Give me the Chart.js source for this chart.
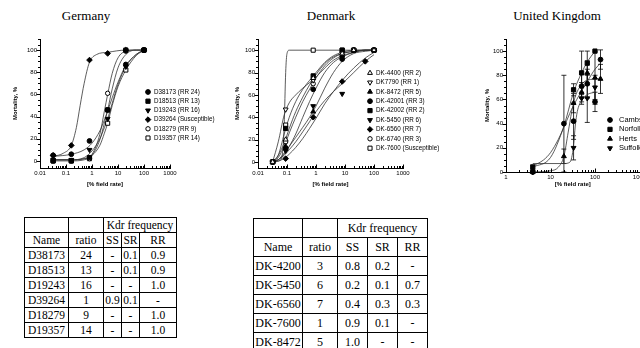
<!DOCTYPE html>
<html>
<head>
<meta charset="utf-8">
<script src="https://cdn.jsdelivr.net/npm/chart.js@4.4.1/dist/chart.umd.min.js"></script>
<style>
  html, body { margin: 0; padding: 0; background: #fff; }
  body { width: 640px; height: 348px; overflow: hidden; position: relative; font-family: "Liberation Serif", "Times New Roman", serif; }
  .title { position: absolute; top: 8px; font-size: 13px; transform: translateX(-50%); white-space: nowrap; color: #000; }
  canvas { position: absolute; }
  table { position: absolute; border-collapse: collapse; table-layout: fixed; color: #000; }
  td { border: 1px solid #000; text-align: center; padding: 0; white-space: nowrap; overflow: hidden; }
</style>
</head>
<body>
<div class="title" style="left:86px">Germany</div>
<div class="title" style="left:331px">Denmark</div>
<div class="title" style="left:557px">United Kingdom</div>

<canvas id="chart-de" width="215" height="160" style="left:0;top:30px"></canvas>
<canvas id="chart-dk" width="250" height="160" style="left:215px;top:30px"></canvas>
<canvas id="chart-uk" width="200" height="160" style="left:460px;top:30px"></canvas>

<table id="table-de" style="left:24px;top:217px;font-size:11.5px"></table>
<table id="table-dk" style="left:253px;top:218px;font-size:12px"></table>

<script>
// ---- Germany ----
const deDoses = [0.032, 0.16, 0.8, 4, 20, 100];
const deNames = ["D38173 (RR 24)", "D18513 (RR 13)", "D19243 (RR 16)", "D39264 (Susceptible)", "D18279 (RR 9)", "D19357 (RR 14)"];
const deMortality = [
  [5, 6, 18, 46, 87, 100],
  [0, 0, 3, 46, 100, 100],
  [1, 1, 10, 38, 85, 100],
  [5, 14, 91, 97, 100, 100],
  [0, 0, 2, 61, 99, 100],
  [0, 0, 2, 34, 82, 100],
];
const deGrid = [0.032, 0.16, 0.5, 1, 2, 3, 4, 6, 10, 20, 50, 100];
const deGridSus = [0.032, 0.08, 0.16, 0.25, 0.35, 0.5, 0.8, 1.5, 4, 20, 100];
const deCurveX = [deGrid, deGrid, deGrid, deGridSus, deGrid, deGrid];
const deCurveY = [
  [4, 6, 10, 16, 27, 37, 45, 57, 71, 86, 96, 100],
  [0, 0, 1, 5, 19, 34, 46, 65, 84, 96, 100, 100],
  [1, 1, 3, 9, 20, 30, 38, 52, 69, 85, 96, 100],
  [4, 7, 14, 30, 50, 70, 89, 96, 98, 100, 100],
  [1, 1, 2, 6, 24, 45, 60, 79, 93, 99, 100, 100],
  [1, 1, 2, 5, 14, 25, 34, 50, 67, 82, 95, 100],
];

// ---- Denmark ----
const dkDoses = [0.032, 0.09, 0.8, 8, 20, 50, 100];
const dkNames = ["DK-4400 (RR 2)", "DK7790 (RR 1)", "DK-8472 (RR 5)", "DK-42001 (RR 3)", "DK-42002 (RR 2)", "DK-5450 (RR 6)", "DK-6560 (RR 7)", "DK-6740 (RR 3)", "DK-7600 (Susceptible)"];
const dkMortality = [
  [0, 20, 75, 97, 100, null, 100],
  [0, 47, 73, 97, 100, null, 100],
  [0, 14, 45, 95, 100, null, 100],
  [0, 12, 65, 92, 100, null, 100],
  [0, 30, 77, 100, 100, null, 100],
  [0, 10, 50, 61, null, null, 100],
  [0, 3, 40, 72, null, 90, 100],
  [0, 18, 70, 95, 100, null, 100],
  [0, 33, 100, 100, 100, null, 100],
];
const dkGrid = [0.032, 0.05, 0.08, 0.12, 0.2, 0.35, 0.6, 1, 2, 4, 8, 20, 50, 100];
const dkGridSus = [0.032, 0.055, 0.07, 0.08, 0.09, 0.1, 0.12, 1, 100];
const dkCurveX = [dkGrid, dkGrid, dkGrid, dkGrid, dkGrid, dkGrid, dkGrid, dkGrid, dkGridSus];
const dkCurveY = [
  [0, 6, 17, 30, 45, 58, 69, 78, 88, 94, 97, 99, 100, 100],
  [0, 18, 42, 53, 60, 66, 71, 76, 84, 91, 95, 98, 100, 100],
  [0, 2, 8, 14, 22, 31, 40, 50, 66, 80, 90, 97, 99, 100],
  [0, 2, 7, 14, 25, 40, 54, 66, 80, 89, 94, 98, 100, 100],
  [0, 6, 25, 40, 54, 65, 73, 80, 89, 95, 98, 100, 100, 100],
  [0, 2, 6, 11, 18, 27, 36, 45, 55, 63, 70, 80, 90, 96],
  [0, 1, 3, 7, 13, 21, 30, 39, 52, 63, 73, 84, 93, 98],
  [0, 4, 14, 26, 40, 54, 65, 75, 86, 93, 97, 99, 100, 100],
  [0, 1, 8, 33, 80, 97, 100, 100, 100],
];

// ---- United Kingdom ----
const ukDoses = [4, 20, 33, 50, 67, 100, 133];
const ukNames = ["Cambs", "Norfolk", "Herts", "Suffolk"];
const ukMortality = [
  [0, 40, 42, 71, 73, 58, 93],
  [4, null, 68, 82, 90, 100, null],
  [0, 13, 57, 66, 82, 78, 77],
  [0, null, 20, 61, 61, 70, null],
];
const ukErrors = [
  [0, 40, 15, 10, 12, 8, 8],
  [2, null, 5, 18, 10, 0, null],
  [0, 6, 8, 8, 10, 22, 12],
  [0, null, 10, 5, 20, 10, null],
];
const ukCurveX = [
  [4, 7, 10, 15, 20, 30, 50, 70, 100, 133],
  [4, 10, 20, 33, 50, 67, 100],
  [4, 10, 15, 20, 25, 30, 35, 45, 67, 133],
  [4, 20, 27, 30, 33, 36, 40, 50, 67, 100],
];
const ukCurveY = [
  [5, 10, 16, 27, 37, 52, 67, 76, 85, 90],
  [4, 12, 38, 66, 82, 91, 100],
  [0, 1, 4, 13, 33, 50, 61, 70, 76, 77],
  [7, 7, 8, 12, 22, 38, 50, 59, 64, 66],
];

// ---- tables ----
const deTableNames = ["D38173", "D18513", "D19243", "D39264", "D18279", "D19357"];
const deRatio = ["24", "13", "16", "1", "9", "14"];
const deSS = ["-", "-", "-", "0.9", "-", "-"];
const deSR = ["0.1", "0.1", "-", "0.1", "-", "-"];
const deRR = ["0.9", "0.9", "1.0", "-", "1.0", "1.0"];

const dkTableNames = ["DK-4200", "DK-5450", "DK-6560", "DK-7600", "DK-8472"];
const dkRatio = ["3", "6", "7", "1", "5"];
const dkSS = ["0.8", "0.2", "0.4", "0.9", "1.0"];
const dkSR = ["0.2", "0.1", "0.3", "0.1", "-"];
const dkRR = ["-", "0.7", "0.3", "-", "-"];

// marker styles
const deStyles = [
  { pointStyle: "circle", fill: true, r: 2.4 },
  { pointStyle: "rect", fill: true, r: 3 },
  { pointStyle: "triangle", fill: true, r: 2.8, rot: 180 },
  { pointStyle: "rectRot", fill: true, r: 2.8 },
  { pointStyle: "circle", fill: false, r: 2.2 },
  { pointStyle: "rect", fill: false, r: 2.9 },
];
const dkStyles = [
  { pointStyle: "triangle", fill: false, r: 2.8 },
  { pointStyle: "triangle", fill: false, r: 2.8, rot: 180 },
  { pointStyle: "triangle", fill: true, r: 2.8 },
  { pointStyle: "circle", fill: true, r: 2.4 },
  { pointStyle: "rect", fill: true, r: 3 },
  { pointStyle: "triangle", fill: true, r: 2.8, rot: 180 },
  { pointStyle: "rectRot", fill: true, r: 2.8 },
  { pointStyle: "circle", fill: false, r: 2.2 },
  { pointStyle: "rect", fill: false, r: 2.9 },
];
const ukStyles = [
  { pointStyle: "circle", fill: true, r: 2.4 },
  { pointStyle: "rect", fill: true, r: 3 },
  { pointStyle: "triangle", fill: true, r: 2.8 },
  { pointStyle: "triangle", fill: true, r: 2.8, rot: 180 },
];

Chart.defaults.font.family = '"Liberation Sans", Arial, sans-serif';
Chart.defaults.font.size = 6;
Chart.defaults.color = "#000";

// minor/major tick marks drawn inward on x, outward on y
const axisTicks = {
  id: "axisTicks",
  afterDraw(chart, args, opts) {
    const { ctx, chartArea: a, scales } = chart;
    const x = scales.x, y = scales.y;
    ctx.save();
    ctx.strokeStyle = "#000";
    ctx.lineWidth = 1;
    ctx.beginPath();
    const n0 = Math.round(Math.log10(x.min)), n1 = Math.round(Math.log10(x.max));
    for (let n = n0; n <= n1; n++) {
      for (let k = 1; k <= 9; k++) {
        const v = k * Math.pow(10, n);
        if (v > x.max * 1.001) break;
        const px = Math.round(x.getPixelForValue(v)) + 0.5;
        const len = k === 1 ? 3.5 : 2;
        ctx.moveTo(px, a.bottom);
        ctx.lineTo(px, a.bottom - len);
      }
    }
    for (let v = 0; v <= opts.yTop; v += 5) {
      const py = Math.round(y.getPixelForValue(v)) + 0.5;
      const len = v % 20 === 0 ? 3.5 : 2;
      ctx.moveTo(a.left, py);
      ctx.lineTo(a.left - len, py);
    }
    ctx.stroke();
    ctx.restore();
  },
};

// error bars from the "e" field of each point
const errorBars = {
  id: "errorBars",
  beforeDatasetsDraw(chart) {
    const { ctx, scales: { y } } = chart;
    ctx.save();
    ctx.strokeStyle = "#000";
    ctx.lineWidth = 0.8;
    chart.data.datasets.forEach((ds, i) => {
      if (!ds.hasErrors) return;
      const meta = chart.getDatasetMeta(i);
      meta.data.forEach((pt, j) => {
        const d = ds.data[j];
        if (!d.e) return;
        const top = y.getPixelForValue(d.y + d.e);
        const bot = y.getPixelForValue(d.y - d.e);
        ctx.beginPath();
        ctx.moveTo(pt.x, top); ctx.lineTo(pt.x, bot);
        ctx.moveTo(pt.x - 2.5, top); ctx.lineTo(pt.x + 2.5, top);
        ctx.moveTo(pt.x - 2.5, bot); ctx.lineTo(pt.x + 2.5, bot);
        ctx.stroke();
      });
    });
    ctx.restore();
  },
};

// legend drawn at a fixed spot beside the plot
const sideLegend = {
  id: "sideLegend",
  afterDraw(chart, args, opts) {
    const ctx = chart.ctx;
    let row = 0;
    ctx.save();
    chart.data.datasets.forEach((ds) => {
      if (!ds.label) return;
      const y = opts.y + row * opts.gap;
      ctx.fillStyle = ds.backgroundColor;
      ctx.strokeStyle = "#000";
      ctx.lineWidth = 1;
      Chart.helpers.drawPoint(ctx, { pointStyle: ds.pointStyle, radius: ds.pointRadius, rotation: ds.rotation || 0, borderWidth: 1 }, opts.x, y);
      ctx.fillStyle = "#000";
      ctx.font = `${opts.size}px "Liberation Sans", Arial, sans-serif`;
      ctx.textBaseline = "middle";
      ctx.fillText(ds.label, opts.x + opts.textGap, y);
      row++;
    });
    ctx.restore();
  },
};

function renderDoseChart(canvasId, c) {
  const el = document.getElementById(canvasId);
  if (!el) return;
  const datasets = [];
  c.mortality.forEach((vals, i) => {
    const st = c.styles[i];
    datasets.push({
      label: c.names[i],
      data: c.doses.map((x, j) => ({ x, y: vals[j], e: c.errors ? c.errors[i][j] : 0 })).filter((p) => p.y !== null),
      showLine: false,
      pointStyle: st.pointStyle,
      rotation: st.rot || 0,
      pointRadius: st.r,
      backgroundColor: st.fill ? "#000" : "#fff",
      borderColor: "#000",
      borderWidth: 1,
      hasErrors: !!c.errors,
      clip: false,
      order: 0,
    });
  });
  c.curveY.forEach((ys, i) => {
    datasets.push({
      label: "",
      data: c.curveX[i].map((x, j) => ({ x, y: ys[j] })),
      showLine: true,
      pointRadius: 0,
      borderColor: "#333",
      borderWidth: 0.8,
      cubicInterpolationMode: "monotone",
      fill: false,
      order: 1,
    });
  });

  new Chart(el, {
    type: "scatter",
    data: { datasets },
    plugins: [axisTicks, errorBars, sideLegend],
    options: {
      responsive: false,
      animation: false,
      events: [],
      layout: { padding: { left: 0, top: 9, right: c.padRight, bottom: 2 } },
      plugins: {
        legend: { display: false },
        tooltip: { enabled: false },
        axisTicks: { yTop: 110 },
        sideLegend: c.legend,
      },
      scales: {
        x: {
          type: "logarithmic",
          min: c.xMin,
          max: c.xMax,
          grid: { display: false, drawTicks: false },
          border: { display: true, color: "#000", width: 1 },
          ticks: { padding: 2, autoSkip: false, maxRotation: 0, callback: (v) => String(v) },
          afterBuildTicks: (s) => { s.ticks = c.xLabels.map((v) => ({ value: v })); },
          afterFit: (s) => { s.height = c.xHeight; },
          title: { display: true, text: "[% field rate]", font: { size: 6, weight: "bold" }, padding: { top: 0, bottom: 0 } },
        },
        y: {
          min: c.yMin,
          max: 110,
          grid: { display: false, drawTicks: false },
          border: { display: true, color: "#000", width: 1 },
          ticks: { padding: 3 },
          afterBuildTicks: (s) => { s.ticks = [0, 20, 40, 60, 80, 100].map((v) => ({ value: v })); },
          afterFit: (s) => { s.width = c.yWidth; },
          title: { display: true, text: "Mortality, %", font: { size: 6, weight: "bold" }, padding: { top: c.yTitlePad, bottom: 0 } },
        },
      },
    },
  });
}

function buildTable(id, names, ratio, ss, sr, rr, widths, rowH) {
  const t = document.getElementById(id);
  if (!t) return;
  let html = "<colgroup>" + widths.map((w) => `<col style="width:${w}px">`).join("") + "</colgroup>";
  html += `<tr style="height:${rowH}px"><td></td><td></td><td colspan="3">Kdr frequency</td></tr>`;
  html += `<tr style="height:${rowH}px"><td>Name</td><td>ratio</td><td>SS</td><td>SR</td><td>RR</td></tr>`;
  names.forEach((n, i) => {
    html += `<tr style="height:${rowH}px"><td>${n}</td><td>${ratio[i]}</td><td>${ss[i]}</td><td>${sr[i]}</td><td>${rr[i]}</td></tr>`;
  });
  t.innerHTML = html;
}

renderDoseChart("chart-de", {
  doses: deDoses, names: deNames, mortality: deMortality, styles: deStyles,
  curveX: deCurveX, curveY: deCurveY,
  xMin: 0.01, xMax: 1000, xLabels: [0.01, 0.1, 1, 10, 100, 1000],
  yMin: -6.4, yWidth: 40, yTitlePad: 11.4, xHeight: 20, padRight: 45,
  legend: { x: 148, y: 62, gap: 9.2, textGap: 6, size: 6.3 },
});

renderDoseChart("chart-dk", {
  doses: dkDoses, names: dkNames, mortality: dkMortality, styles: dkStyles,
  curveX: dkCurveX, curveY: dkCurveY,
  xMin: 0.01, xMax: 1000, xLabels: [0.01, 0.1, 1, 10, 100, 1000],
  yMin: -5.4, yWidth: 43, yTitlePad: 18.4, xHeight: 20, padRight: 62,
  legend: { x: 155, y: 43, gap: 9.4, textGap: 6, size: 6.3 },
});

renderDoseChart("chart-uk", {
  doses: ukDoses, names: ukNames, mortality: ukMortality, errors: ukErrors, styles: ukStyles,
  curveX: ukCurveX, curveY: ukCurveY,
  xMin: 1, xMax: 1000, xLabels: [1, 10, 100, 1000],
  yMin: 0, yWidth: 46, yTitlePad: 23.4, xHeight: 16, padRight: 20.5,
  legend: { x: 150, y: 90, gap: 9.4, textGap: 9, size: 7.5 },
});

buildTable("table-de", deTableNames, deRatio, deSS, deSR, deRR, [44, 35, 18, 18, 37], 15);
buildTable("table-dk", dkTableNames, dkRatio, dkSS, dkSR, dkRR, [49, 35, 30, 30, 30], 19);
</script>
</body>
</html>
